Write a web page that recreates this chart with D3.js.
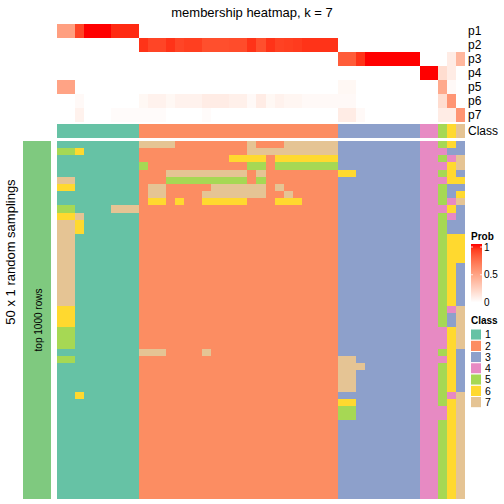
<!DOCTYPE html>
<html><head><meta charset="utf-8">
<script src="https://cdn.jsdelivr.net/npm/d3@7"></script>
<style>html,body{margin:0;padding:0;background:#fff;} svg{display:block;} text{font-family:"Liberation Sans",Arial,Helvetica,sans-serif;fill:#000;}</style>
</head><body><svg id="chart" width="504" height="504"></svg>
<script>
// ---------- data ----------
const title = "membership heatmap, k = 7";
const classNames = ["1","2","3","4","5","6","7"];
const classColors = ["#66C2A5","#FC8D62","#8DA0CB","#E78AC3","#A6D854","#FFD92F","#E5C494"];
const probNames = ["p1","p2","p3","p4","p5","p6","p7"];
const probTicks = [0, 0.5, 1];
// predicted class of each of the 45 columns
const columnClass = "111111111|2222222222222222222222|333333333|44|567";
// membership probabilities per column
const p1 = [0.5,0.5,0.88,1,1,1,0.95,0.95,0.95, 0,0,0,0,0,0,0,0,0,0,0,0,0,0,0,0,0,0,0,0,0,0, 0,0,0,0,0,0,0,0,0, 0,0, 0,0,0];
const p2 = [0,0,0,0,0,0,0,0,0, 0.93,0.88,0.88,0.93,0.88,0.9,0.9,0.85,0.85,0.85,0.86,0.86,0.93,0.85,0.93,0.89,0.9,0.91,0.93,0.93,0.93,0.93, 0,0,0,0,0,0,0,0,0, 0,0, 0,0,0];
const p3 = [0,0,0,0,0,0,0,0,0, 0,0,0,0,0,0,0,0,0,0,0,0,0,0,0,0,0,0,0,0,0,0, 0.8,0.8,0.93,1,1,1,1,1,1, 0,0, 0,0.1,0.38];
const p4 = [0,0,0,0,0,0,0,0,0, 0,0,0,0,0,0,0,0,0,0,0,0,0,0,0,0,0,0,0,0,0,0, 0,0,0,0,0,0,0,0,0, 1,1, 0.18,0.1,0];
const p5 = [0.48,0.48,0,0,0,0,0,0,0, 0,0,0,0,0,0,0,0,0,0,0,0,0,0,0,0,0,0,0,0,0,0, 0.04,0.04,0,0,0,0,0,0,0, 0,0, 0.45,0.03,0];
const p6 = [0,0,0.03,0,0,0,0,0,0, 0.04,0.07,0.07,0.04,0.07,0.07,0.07,0.1,0.1,0.1,0.08,0.08,0.03,0.1,0.04,0.07,0.05,0.05,0.03,0.03,0.03,0.03, 0.03,0.03,0,0,0,0,0,0,0, 0,0, 0.18,0.55,0];
const p7 = [0,0,0.07,0,0,0,0.02,0.02,0.02, 0.02,0.02,0.02,0,0,0,0,0.02,0,0,0,0,0,0,0,0,0,0,0,0,0,0, 0.1,0.1,0.03,0,0,0,0,0,0, 0,0, 0.1,0.1,0.55];
// class assigned in each of the 50 random samplings (rows) for each column
const samplings = [
"111111111|7777222222227222777777|333333333|44|563",
"556111111|2222222222227777777777|333333333|44|433",
"111111111|2222222222666626666666|333333333|44|547",
"111111111|5222222222225525555555|333333333|44|467",
"111111111|2227777777772722222222|663333333|44|563",
"771111111|2225555555552522222222|333333333|44|466",
"661111111|2772222277777727222222|333333333|44|533",
"111111111|2772222777777722722222|333333333|44|536",
"111111111|2662622666662226662222|333333333|44|547",
"551111777|2222222222222222222222|333333333|44|463",
"667111111|2222222222222222222222|333333333|44|543",
"776111111|2222222222222222222222|333333333|44|533",
"776111111|2222222222222222222222|333333333|44|533",
"771111111|2222222222222222222222|333333333|44|566",
"771111111|2222222222222222222222|333333333|44|566",
"771111111|2222222222222222222222|333333333|44|566",
"771111111|2222222222222222222222|333333333|44|566",
"771111111|2222222222222222222222|333333333|44|563",
"771111111|2222222222222222222222|333333333|44|563",
"771111111|2222222222222222222222|333333333|44|563",
"771111111|2222222222222222222222|333333333|44|563",
"771111111|2222222222222222222222|333333333|44|563",
"771111111|2222222222222222222222|333333333|44|563",
"661111111|2222222222222222222222|333333333|44|547",
"661111111|2222222222222222222222|333333333|44|537",
"661111111|2222222222222222222222|333333333|44|537",
"551111111|2222222222222222222222|333333333|44|467",
"551111111|2222222222222222222222|333333333|44|467",
"551111111|2222222222222222222222|333333333|44|467",
"111111111|7772222722222222222222|333333333|44|563",
"551111111|2222222222222222222222|773333333|44|463",
"111111111|2222222222222222222222|777333333|44|563",
"111111111|2222222222222222222222|773333333|44|563",
"111111111|2222222222222222222222|773333333|44|563",
"111111111|2222222222222222222222|773333333|44|563",
"116111111|2222222222222222222222|333333333|44|547",
"111111111|2222222222222222222222|663333333|44|567",
"111111111|2222222222222222222222|553333333|44|467",
"111111111|2222222222222222222222|553333333|44|467",
"111111111|2222222222222222222222|333333333|44|567",
"111111111|2222222222222222222222|333333333|44|567",
"111111111|2222222222222222222222|333333333|44|567",
"111111111|2222222222222222222222|333333333|44|567",
"111111111|2222222222222222222222|333333333|44|567",
"111111111|2222222222222222222222|333333333|44|567",
"111111111|2222222222222222222222|333333333|44|567",
"111111111|2222222222222222222222|333333333|44|567",
"111111111|2222222222222222222222|333333333|44|567",
"111111111|2222222222222222222222|333333333|44|567",
"111111111|2222222222222222222222|333333333|44|567"
];
const rowGroupLabel = "top 1000 rows";
const sideTitle = "50 x 1 random samplings";

// ---------- drawing ----------
const svg = d3.select("#chart");
const probs = [p1,p2,p3,p4,p5,p6,p7];
const colCls = columnClass.replace(/\|/g,"").split("");
const grid = samplings.map(r => r.replace(/\|/g,"").split(""));
const nCol = colCls.length, nRow = grid.length;

const x = d3.scaleBand().domain(d3.range(nCol)).range([57,465]);
const yMain = d3.scaleBand().domain(d3.range(nRow)).range([141,499]);
const yProb = d3.scaleBand().domain(probNames).range([24,122]);
const classColor = d3.scaleOrdinal().domain(classNames).range(classColors);
const probColor = d3.scaleLinear().domain([0,1]).range(["#FFFFFF","#FF0000"]).interpolate(d3.interpolateLab);

// title
svg.append("text").attr("x",252).attr("y",17).attr("text-anchor","middle")
  .style("font-size","13px").text(title);

// probability annotation
probNames.forEach((nm,i) => {
  svg.append("g").attr("shape-rendering","crispEdges").selectAll("rect").data(probs[i]).join("rect")
    .attr("x",(d,j)=>x(j)).attr("width",x.bandwidth()+0.3)
    .attr("y",yProb(nm)).attr("height",yProb.bandwidth()+0.3)
    .attr("fill",d=>probColor(d));
  svg.append("text").attr("x",468).attr("y",yProb(nm)+yProb.bandwidth()/2)
    .attr("dy","0.35em").style("font-size","12px").text(nm);
});
// class annotation
const classRowY = 124, classRowH = 14;
svg.append("g").attr("shape-rendering","crispEdges").selectAll("rect").data(colCls).join("rect")
  .attr("x",(d,j)=>x(j)).attr("width",x.bandwidth()+0.3)
  .attr("y",classRowY).attr("height",classRowH)
  .attr("fill",d=>classColor(d));
svg.append("text").attr("x",468).attr("y",classRowY+classRowH/2).attr("dy","0.35em")
  .style("font-size","12px").text("Class");

// main heatmap
const cells = [];
grid.forEach((row,r)=>row.forEach((c,j)=>cells.push({r,j,c})));
svg.append("g").attr("shape-rendering","crispEdges").selectAll("rect").data(cells).join("rect")
  .attr("x",d=>x(d.j)).attr("width",x.bandwidth()+0.3)
  .attr("y",d=>yMain(d.r)).attr("height",yMain.bandwidth()+0.3)
  .attr("fill",d=>classColor(d.c));

// row-group bar on the left
svg.append("rect").attr("x",23).attr("width",28).attr("y",yMain.range()[0])
  .attr("height",yMain.range()[1]-yMain.range()[0]).attr("fill","#7FC97F");
const midY = (yMain.range()[0]+yMain.range()[1])/2;
svg.append("text").attr("transform",`translate(41.5,${midY}) rotate(-90)`)
  .attr("text-anchor","middle").style("font-size","10px").text(rowGroupLabel);
svg.append("text").attr("transform",`translate(14.5,252) rotate(-90)`)
  .attr("text-anchor","middle").style("font-size","13px").text(sideTitle);

// Prob legend
const lgX = 471;
svg.append("text").attr("x",lgX).attr("y",240).style("font-size","10px").style("font-weight","bold").text("Prob");
const defs = svg.append("defs");
const grad = defs.append("linearGradient").attr("id","pg").attr("x1",0).attr("x2",0).attr("y1",0).attr("y2",1);
d3.range(0,1.0001,0.1).forEach(t=>grad.append("stop").attr("offset",t).attr("stop-color",probColor(1-t)));
const lgY = d3.scaleLinear().domain([0,1]).range([302.5,247]);
svg.append("rect").attr("x",lgX).attr("y",244).attr("width",11).attr("height",lgY(0)-244).attr("fill","url(#pg)");
probTicks.forEach(t=>{
  svg.append("line").attr("x1",lgX).attr("x2",lgX+2).attr("y1",lgY(t)).attr("y2",lgY(t)).attr("stroke","#fff").attr("stroke-width",0.8);
  svg.append("line").attr("x1",lgX+9).attr("x2",lgX+11).attr("y1",lgY(t)).attr("y2",lgY(t)).attr("stroke","#fff").attr("stroke-width",0.8);
  svg.append("text").attr("x",484).attr("y",lgY(t)).attr("dy","0.35em").style("font-size","10px").text(t);
});

// Class legend
svg.append("text").attr("x",lgX).attr("y",323.5).style("font-size","10px").style("font-weight","bold").text("Class");
const lgC = d3.scaleBand().domain(classNames).range([329,329+11.25*7]);
classNames.forEach(c=>{
  svg.append("rect").attr("x",470.5).attr("y",lgC(c)).attr("width",11).attr("height",11.25)
    .attr("fill",classColor(c)).attr("stroke","#fff").attr("stroke-width",1);
  svg.append("text").attr("x",485).attr("y",lgC(c)+11.25/2).attr("dy","0.35em").style("font-size","10.5px").text(c);
});
</script></body></html>
